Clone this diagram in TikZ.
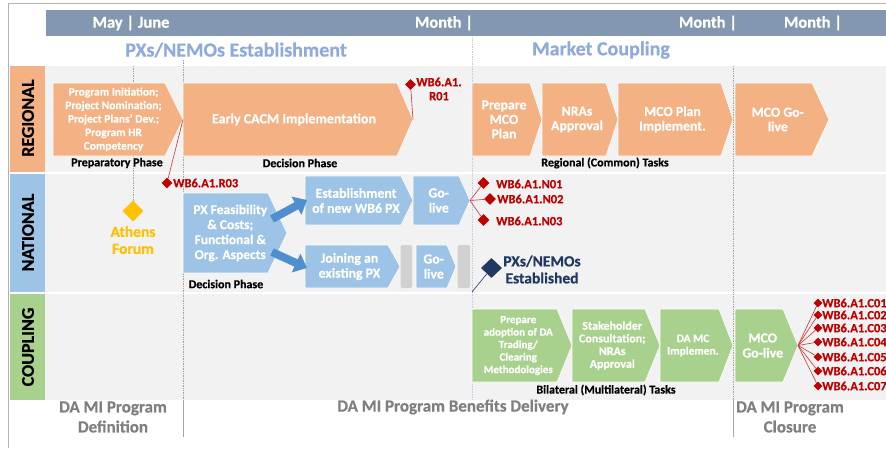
\documentclass[tikz,border=0pt]{standalone}
\usepackage{fontspec}
\setmainfont{Carlito}[BoldFont={Carlito Bold}, BoldFeatures={FakeBold=0.5}]
\usetikzlibrary{shapes.geometric,arrows.meta}
\definecolor{hdr}{HTML}{8497B0}
\definecolor{ttl}{HTML}{8FAADC}
\definecolor{org}{HTML}{F4B183}
\definecolor{blu}{HTML}{9DC3E6}
\definecolor{grn}{HTML}{A9D18E}
\definecolor{lanebg}{HTML}{F2F2F2}
\definecolor{msred}{HTML}{C00000}
\definecolor{navy}{HTML}{1F3864}
\definecolor{yel}{HTML}{FFC000}
\definecolor{gtxt}{HTML}{7F7F7F}
\definecolor{darkblu}{HTML}{4F8FD0}
\definecolor{sep}{HTML}{A6A6A6}
\tikzset{
  boxtxt/.style={text=white, font=\bfseries, align=center, inner sep=0pt},
  phase/.style={font=\bfseries\fontsize{12}{13}\selectfont, text=black, inner sep=0pt},
  mslabel/.style={text=msred, font=\bfseries\fontsize{12.5}{14}\selectfont, inner sep=0pt},
  msdia/.style={diamond, fill=msred, inner sep=0pt, minimum width=#1, minimum height=#1},
  msline/.style={draw=msred!80, line width=0.6pt},
  lanelbl/.style={rotate=90, font=\bfseries\fontsize{18}{18}\selectfont, text=black, inner sep=0pt},
  hdrtxt/.style={text=white, font=\bfseries\fontsize{16.5}{16.5}\selectfont, inner sep=0pt},
  title/.style={text=ttl, font=\bfseries\fontsize{20}{20}\selectfont, inner sep=0pt},
  bottxt/.style={text=gtxt, font=\bfseries\fontsize{17}{20}\selectfont, align=center, inner sep=0pt},
  dotline/.style={draw=sep, densely dotted, line width=0.7pt},
  blockarrow/.style={draw=darkblu, line width=8pt, -{Triangle[width=20pt,length=12pt]}},
  grayblk/.style={fill=black!18, rounded corners=2pt},
}
% name, x1, y1, x2(tip), y2, shoulder, fill, font, text
\newcommand\pbox[9]{%
  \fill[#7, draw=white, line width=0.6pt] (#2,#3) -- (#6,#3) -- (#4,{(#3+#5)/2}) -- (#6,#5) -- (#2,#5) -- cycle;
  \coordinate (#1-tip) at (#4,{(#3+#5)/2});
  \node[boxtxt, font=\bfseries#8] (#1) at ({(2*#2+#6+#4)/4},{(#3+#5)/2}) {#9};
}
\begin{document}
\begin{tikzpicture}[x=1pt,y=-1pt]
\useasboundingbox (0,0) rectangle (886,448);
\fill[white] (0,0) rectangle (886,448);
% frame
\draw[black!30, line width=0.8pt] (8,448) -- (8,3) -- (886,3);
% header
\fill[hdr] (46,10) rectangle (886,36);
\node[hdrtxt] (h1) at (131,23) {May | June};
\node[hdrtxt] (h2) at (444,23) {Month |};
\node[hdrtxt] (h3) at (708,23) {Month |};
\node[hdrtxt] (h4) at (813,23) {Month |};
\node[title] (t1) at (236,50) {PXs/NEMOs Establishment};
\node[title] (t2) at (601,50) {Market Coupling};
% lanes
\fill[lanebg] (45,66) rectangle (886,171.5);
\fill[lanebg] (45,173.5) rectangle (886,291.5);
\fill[lanebg] (45,293.5) rectangle (886,400);
\fill[org] (10,66) rectangle (45,171.5);
\fill[blu] (10,173.5) rectangle (45,291.5);
\fill[grn] (10,293.5) rectangle (45,400);
\node[lanelbl] (lr) at (28,118) {REGIONAL};
\node[lanelbl] (ln) at (28,232.5) {NATIONAL};
\node[lanelbl] (lc) at (28,347) {COUPLING};
% vertical separators
\draw[dotline] (133,66) -- (133,201);
\draw[dotline] (183,60) -- (183,400);
\draw[sep, line width=0.7pt] (183,400) -- (183,437);
\draw[draw=ttl!60, densely dotted, line width=0.7pt] (472,37) -- (472,400);
\draw[dotline] (733,66) -- (733,400);
\draw[sep, line width=0.7pt] (733,400) -- (733,437);
% regional
\pbox{pi}{53}{83}{183}{156}{165}{org}{\fontsize{11.5}{13.5}\selectfont}{Program Initiation;\\Project Nomination;\\Project Plans' Dev.;\\Program HR\\Competency}
\pbox{cacm}{183}{83}{413}{156}{397}{org}{\fontsize{14}{16}\selectfont}{Early CACM Implementation}
\pbox{pmco}{472}{83}{542}{156}{530}{org}{\fontsize{13.8}{14.5}\selectfont}{Prepare\\MCO\\Plan}
\pbox{nra}{542}{83}{618}{156}{606}{org}{\fontsize{13.8}{14.5}\selectfont}{NRAs\\Approval}
\pbox{mcoimp}{618}{83}{733}{156}{721}{org}{\fontsize{13.8}{14.5}\selectfont}{MCO Plan\\Implement.}
\pbox{mcogo}{735}{83}{829}{156}{812}{org}{\fontsize{13.8}{14.5}\selectfont}{MCO Go-\\live}
\node[phase] (ph1) at (117,163) {Preparatory Phase};
\node[phase] (ph2) at (300,163) {Decision Phase};
\node[phase] (ph3) at (605,163) {Regional (Common) Tasks};
% R01
\node[msdia=11pt] (r01) at (410.5,84.5) {};
\draw[msline] (cacm-tip) -- (r01);
\node[mslabel, align=center] (r01l) at (439,89) {WB6.A1.\\R01};
% R03
\node[msdia=11pt] (r03) at (167,183) {};
\draw[msline] (pi-tip) -- (r03);
\node[mslabel, anchor=west] (r03l) at (173,183) {WB6.A1.R03};
% national
\node[diamond, fill=yel, inner sep=0pt, minimum width=21pt, minimum height=21pt] (ath) at (133,211) {};
\node[text=yel, font=\bfseries\fontsize{15.5}{17}\selectfont, align=center, inner sep=0pt] (athl) at (133,240) {Athens\\Forum};
\pbox{feas}{183}{193}{287}{273}{268}{blu}{\fontsize{13.5}{15}\selectfont}{PX Feasibility\\\& Costs;\\Functional \&\\Org. Aspects}
\pbox{est}{305}{176}{413}{225}{401}{blu}{\fontsize{13.8}{15}\selectfont}{Establishment\\of new WB6 PX}
\pbox{go1}{413}{176}{470}{225}{459}{blu}{\fontsize{13.8}{15}\selectfont}{Go-\\live}
\pbox{join}{305}{245}{400}{288}{388}{blu}{\fontsize{13.8}{15}\selectfont}{Joining an\\existing PX}
\fill[grayblk] (400.5,245) rectangle (412,288);
\pbox{go2}{416}{245}{456}{288}{447}{blu}{\fontsize{13.8}{15}\selectfont}{Go-\\live}
\fill[grayblk] (457.5,245) rectangle (470,288);
\draw[blockarrow] (272,219) -- (307,200);
\draw[blockarrow] (272,252) -- (307,268);
\node[phase] (ph4) at (226,284) {Decision Phase};
% N milestones
\node[msdia=12pt] (n01) at (483.5,183) {};
\node[msdia=12pt] (n02) at (490,199) {};
\node[msdia=12pt] (n03) at (483.5,220) {};
\draw[msline] (go1-tip) -- (n01);
\draw[msline] (go1-tip) -- (n02);
\draw[msline] (go1-tip) -- (n03);
\node[mslabel, anchor=west] (n01l) at (496,184) {WB6.A1.N01};
\node[mslabel, anchor=west] (n02l) at (497,199) {WB6.A1.N02};
\node[mslabel, anchor=west] (n03l) at (496,221) {WB6.A1.N03};
% PXs established
\coordinate (pxe-foot) at (472,292);
\node[diamond, fill=navy, inner sep=0pt, minimum width=21pt, minimum height=20pt] (pxe) at (491.5,268) {};
\draw[navy, line width=0.6pt] (pxe-foot) -- (pxe);
\node[text=navy, font=\bfseries\fontsize{15.5}{17}\selectfont, align=center, inner sep=0pt] (pxel) at (542,269.5) {PXs/NEMOs\\Established};
% coupling
\pbox{prep}{472}{309}{572}{382}{557}{grn}{\fontsize{11}{12.5}\selectfont}{Prepare\\adoption of DA\\Trading/\\Clearing\\Methodologies}
\pbox{stk}{572}{309}{660}{382}{645}{grn}{\fontsize{12}{12.7}\selectfont}{Stakeholder\\Consultation;\\NRAs\\Approval}
\pbox{damc}{660}{309}{733}{382}{719}{grn}{\fontsize{11.5}{12.5}\selectfont}{DA MC\\Implemen.}
\pbox{mcog2}{735}{309}{798}{382}{783}{grn}{\fontsize{13.8}{15}\selectfont}{MCO\\Go-live}
\node[phase] (ph5) at (606,390) {Bilateral (Multilateral) Tasks};
% C milestones
\foreach \i/\yy in {1/303,2/315,3/328,4/342,5/357,6/371,7/386}{
  \node[msdia=9pt] (c\i) at (818,\yy) {};
  \draw[msline] (mcog2-tip) -- (c\i);
  \node[mslabel, anchor=west] (c\i l) at (822,\yy) {WB6.A1.C0\i};
}
% bottom
\node[bottxt] (b1) at (113,417) {DA MI Program\\Definition};
\node[bottxt] (b2) at (453,407) {DA MI Program Benefits Delivery};
\node[bottxt] (b3) at (790,417) {DA MI Program\\Closure};
\end{tikzpicture}
\end{document}
